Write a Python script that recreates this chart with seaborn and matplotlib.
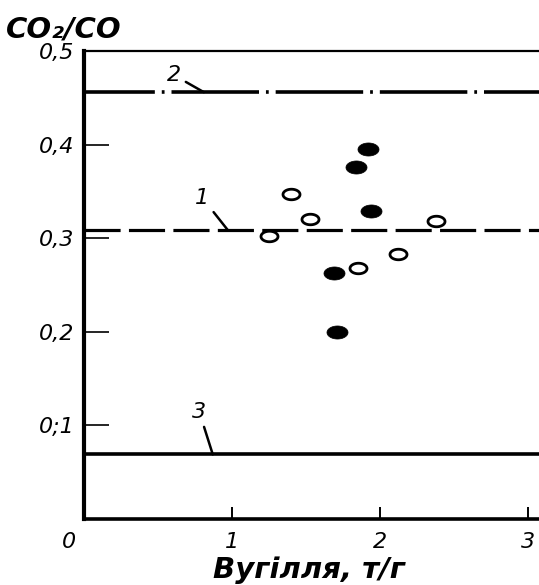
import numpy as np
import pandas as pd
import matplotlib
matplotlib.use("Agg")
import matplotlib.pyplot as plt
from matplotlib.path import Path
from matplotlib.transforms import ScaledTranslation
import seaborn as sns

# Measured points: coal feed vs CO2/CO ratio
filled_x = [1.92, 1.835, 1.94, 1.69, 1.71]
filled_y = [0.395, 0.376, 0.329, 0.263, 0.200]
open_x = [1.40, 1.53, 1.25, 1.85, 2.12, 2.38]
open_y = [0.347, 0.321, 0.302, 0.268, 0.283, 0.318]

# Reference levels (curves 1, 2, 3)
level_names = ["1", "2", "3"]
level_values = [0.309, 0.456, 0.069]

x_ticks = [0, 1, 2, 3]
x_tick_labels = ["0", "1", "2", "3"]
y_ticks = [0.1, 0.2, 0.3, 0.4, 0.5]
y_tick_labels = ["0;1", "0,2", "0,3", "0,4", "0,5"]

sns.set_style("white")
plt.rcParams["font.family"] = ["DejaVu Sans"]
plt.rcParams["lines.scale_dashes"] = False
for key in ["text.color", "axes.labelcolor", "xtick.color", "ytick.color"]:
    plt.rcParams[key] = "black"

W, H = 539, 585
fig = plt.figure(figsize=(W / 100, H / 100), dpi=100)
ax = fig.add_axes([84 / W, 1 - 519 / H, (W - 84) / W, (519 - 51) / H])
ax.set_facecolor("white")

ax.set_xlim(0, (W - 84) / 148)
ax.set_ylim(0, 0.5)

# Ellipse-shaped marker
t = np.linspace(0, 2 * np.pi, 60)
ellipse = Path(np.column_stack([np.cos(t), 0.62 * np.sin(t)]), closed=True)

df_f = pd.DataFrame({"x": filled_x, "y": filled_y})
df_o = pd.DataFrame({"x": open_x, "y": open_y})
sns.scatterplot(data=df_f, x="x", y="y", ax=ax, marker=ellipse, s=230,
                color="black", edgecolor="black", linewidth=0.5, zorder=4)
sns.scatterplot(data=df_o, x="x", y="y", ax=ax, marker=ellipse, s=150,
                color="white", edgecolor="black", linewidth=2.0, zorder=4)

styles = {
    "1": dict(lw=2.3, ls=(0, (26, 6))),
    "2": dict(lw=2.6, ls=(12, (63, 5, 2, 5))),
    "3": dict(lw=2.6, ls="-"),
}
for name, val in zip(level_names, level_values):
    st = styles[name]
    ax.axhline(val, color="black", lw=st["lw"], linestyle=st["ls"], zorder=3)

# Curve labels with leader lines
label_pos = {"1": (0.80, 0.343, 0.97), "2": (0.61, 0.474, 0.81), "3": (0.78, 0.114, 0.87)}
for name, val in zip(level_names, level_values):
    tx, ty, lx = label_pos[name]
    ax.annotate(name, xy=(lx, val), xytext=(tx, ty), fontsize=16, style="italic",
                ha="center", va="center",
                arrowprops=dict(arrowstyle="-", lw=1.8, color="black",
                                shrinkA=1, shrinkB=0))

# Spines
ax.spines["right"].set_visible(False)
ax.spines["left"].set_linewidth(3.0)
ax.spines["bottom"].set_linewidth(2.6)
ax.spines["top"].set_linewidth(1.6)
for s in ["left", "bottom", "top"]:
    ax.spines[s].set_color("black")

ax.set_xticks(x_ticks)
ax.set_xticklabels(x_tick_labels, fontsize=16, style="italic")
ax.set_yticks(y_ticks)
ax.set_yticklabels(y_tick_labels, fontsize=16, style="italic")
ax.tick_params(axis="y", direction="in", length=18, width=1.2, pad=7, left=True)
ax.tick_params(axis="x", direction="in", length=9, width=1.4, pad=9, bottom=True)
lbl0 = ax.get_xticklabels()[0]
lbl0.set_transform(lbl0.get_transform() + ScaledTranslation(-0.15, 0, fig.dpi_scale_trans))

ax.set_xlabel("")
ax.set_ylabel("")
fig.text(309 / W, 1 - 578 / H, "Вугілля, т/г", fontsize=21, fontweight="bold",
         style="italic", ha="center", va="baseline")
fig.text(6 / W, 1 - 38 / H, "CO₂/CO", fontsize=21, fontweight="bold",
         style="italic", ha="left", va="baseline")

fig.savefig("out.png", dpi=100, facecolor="white")
